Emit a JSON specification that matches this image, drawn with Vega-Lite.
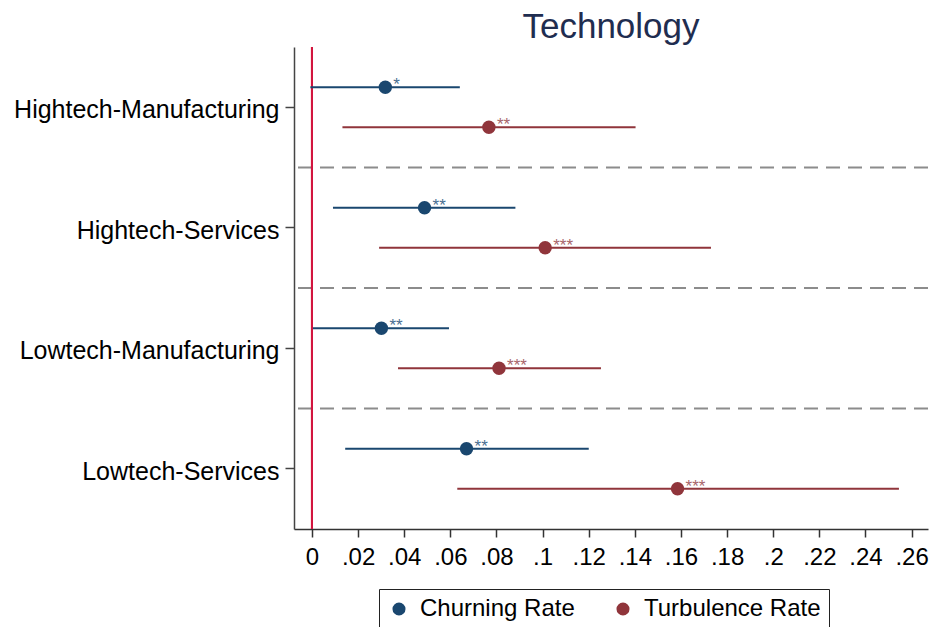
{
  "$schema": "https://vega.github.io/schema/vega-lite/v6.json",
  "width": 634,
  "height": 482,
  "autosize": {"type": "none"},
  "padding": {"left": 294, "top": 47, "right": 4, "bottom": 98},
  "background": "white",
  "config": {
    "font": "Liberation Sans",
    "view": {"stroke": null}
  },
  "title": {
    "text": "Technology",
    "fontSize": 35,
    "fontWeight": "normal",
    "color": "#1f2d50",
    "anchor": "middle",
    "offset": 1
  },
  "datasets": {
    "estimates": [
      {"sector": "Hightech-Manufacturing", "series": "Churning Rate", "est": 0.0318, "lo": -0.0007, "hi": 0.0641, "stars": "*"},
      {"sector": "Hightech-Manufacturing", "series": "Turbulence Rate", "est": 0.0767, "lo": 0.0132, "hi": 0.1403, "stars": "**"},
      {"sector": "Hightech-Services", "series": "Churning Rate", "est": 0.0488, "lo": 0.0091, "hi": 0.0882, "stars": "**"},
      {"sector": "Hightech-Services", "series": "Turbulence Rate", "est": 0.1011, "lo": 0.0291, "hi": 0.1730, "stars": "***"},
      {"sector": "Lowtech-Manufacturing", "series": "Churning Rate", "est": 0.0301, "lo": 0.0004, "hi": 0.0594, "stars": "**"},
      {"sector": "Lowtech-Manufacturing", "series": "Turbulence Rate", "est": 0.0811, "lo": 0.0373, "hi": 0.1253, "stars": "***"},
      {"sector": "Lowtech-Services", "series": "Churning Rate", "est": 0.0670, "lo": 0.0144, "hi": 0.1200, "stars": "**"},
      {"sector": "Lowtech-Services", "series": "Turbulence Rate", "est": 0.1585, "lo": 0.0630, "hi": 0.2545, "stars": "***"}
    ],
    "separators": [
      {"sector": "Hightech-Manufacturing"},
      {"sector": "Hightech-Services"},
      {"sector": "Lowtech-Manufacturing"}
    ]
  },
  "encoding": {
    "y": {
      "field": "sector",
      "type": "nominal",
      "scale": {
        "type": "band",
        "domain": ["Hightech-Manufacturing", "Hightech-Services", "Lowtech-Manufacturing", "Lowtech-Services"],
        "paddingInner": 0,
        "paddingOuter": 0
      },
      "axis": {
        "title": null,
        "labelFontSize": 25,
        "labelLimit": 0,
        "labelColor": "#000",
        "labelPadding": 6,
        "labelOffset": 3,
        "tickSize": 9,
        "tickColor": "#444",
        "tickWidth": 1.5,
        "domainColor": "#444",
        "domainWidth": 1.5,
        "grid": false
      }
    }
  },
  "layer": [
    {
      "data": {"name": "separators"},
      "mark": {"type": "rule", "color": "#8c8c8c", "strokeWidth": 2, "strokeDash": [14, 8]},
      "encoding": {
        "y": {"field": "sector", "type": "nominal", "bandPosition": 1}
      }
    },
    {
      "data": {"name": "estimates"},
      "mark": {"type": "rule", "color": "#d2153f", "strokeWidth": 2},
      "encoding": {
        "x": {"datum": 0},
        "y": null
      }
    },
    {
      "data": {"name": "estimates"},
      "transform": [{"filter": {"field": "series", "equal": "Churning Rate"}}],
      "mark": {"type": "rule", "strokeWidth": 2.2, "color": "#1a476f"},
      "encoding": {
        "x": {
          "field": "lo",
          "type": "quantitative",
          "scale": {"domain": [-0.0078, 0.2671], "nice": false, "zero": false},
          "axis": {
            "title": null,
            "values": [0, 0.02, 0.04, 0.06, 0.08, 0.1, 0.12, 0.14, 0.16, 0.18, 0.2, 0.22, 0.24, 0.26],
            "labelExpr": "datum.value == 0 ? '0' : replace(format(datum.value, '.2~f'), '0.', '.')",
            "labelFontSize": 24,
            "labelColor": "#000",
            "labelPadding": 8,
            "labelFlush": false,
            "labelOverlap": false,
            "tickSize": 8,
            "tickColor": "#333",
            "tickWidth": 1.5,
            "domainColor": "#333",
            "domainWidth": 1.5,
            "grid": false
          }
        },
        "x2": {"field": "hi"},
        "yOffset": {
          "field": "series",
          "type": "nominal",
          "scale": {"domain": ["Churning Rate", "Turbulence Rate"], "paddingInner": 0, "paddingOuter": 0.506}
        }
      }
    },
    {
      "data": {"name": "estimates"},
      "transform": [{"filter": {"field": "series", "equal": "Turbulence Rate"}}],
      "mark": {"type": "rule", "strokeWidth": 2.2, "color": "#90353b"},
      "encoding": {
        "x": {"field": "lo", "type": "quantitative"},
        "x2": {"field": "hi"},
        "yOffset": {"field": "series", "type": "nominal"}
      }
    },
    {
      "data": {"name": "estimates"},
      "mark": {"type": "circle", "size": 180, "opacity": 1},
      "encoding": {
        "x": {"field": "est", "type": "quantitative"},
        "yOffset": {"field": "series", "type": "nominal"},
        "color": {
          "field": "series",
          "type": "nominal",
          "scale": {"domain": ["Churning Rate", "Turbulence Rate"], "range": ["#1a476f", "#90353b"]},
          "legend": {
            "title": null,
            "orient": "none",
            "legendX": 85,
            "legendY": 542,
            "direction": "horizontal",
            "strokeColor": "#222",
            "padding": 8,
            "symbolType": "circle",
            "symbolSize": 170,
            "symbolStrokeWidth": 0,
            "labelFontSize": 24,
            "labelLimit": 0,
            "labelColor": "#000",
            "columnPadding": 36,
            "labelOffset": 9
          }
        }
      }
    },
    {
      "data": {"name": "estimates"},
      "transform": [{"filter": {"field": "series", "equal": "Churning Rate"}}],
      "mark": {"type": "text", "align": "left", "baseline": "middle", "dx": 8, "dy": -2, "fontSize": 17, "color": "#4a6f92"},
      "encoding": {
        "x": {"field": "est", "type": "quantitative"},
        "yOffset": {"field": "series", "type": "nominal"},
        "text": {"field": "stars"}
      }
    },
    {
      "data": {"name": "estimates"},
      "transform": [{"filter": {"field": "series", "equal": "Turbulence Rate"}}],
      "mark": {"type": "text", "align": "left", "baseline": "middle", "dx": 8, "dy": -2, "fontSize": 17, "color": "#a8666b"},
      "encoding": {
        "x": {"field": "est", "type": "quantitative"},
        "yOffset": {"field": "series", "type": "nominal"},
        "text": {"field": "stars"}
      }
    }
  ]
}
